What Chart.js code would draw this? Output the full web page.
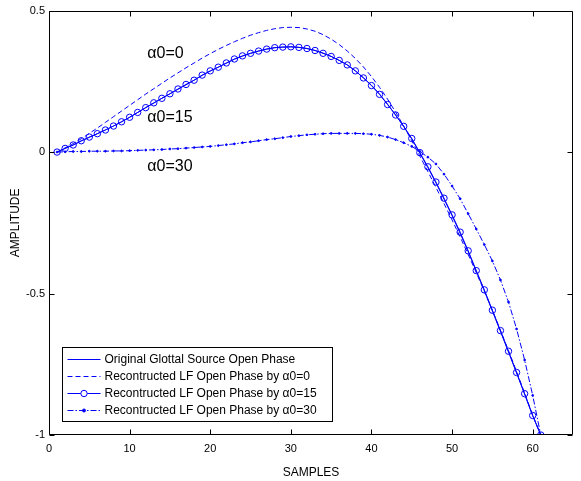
<!DOCTYPE html>
<html><head><meta charset="utf-8">
<script src="https://cdn.jsdelivr.net/npm/chart.js@4/dist/chart.umd.min.js"></script>
<style>html,body{margin:0;padding:0;background:#fff;}#wrap{width:581px;height:481px;}</style>
</head><body><div id="wrap"><canvas id="c" width="581" height="481"></canvas></div>
<script>
const samples = [1,2,3,4,5,6,7,8,9,10,11,12,13,14,15,16,17,18,19,20,21,22,23,24,25,26,27,28,29,30,31,32,33,34,35,36,37,38,39,40,41,42,43,44,45,46,47,48,49,50,51,52,53,54,55,56,57,58,59,60,61];
const original = [0,0.013,0.025,0.039,0.052,0.065,0.078,0.092,0.107,0.123,0.14,0.157,0.173,0.19,0.206,0.222,0.238,0.254,0.271,0.286,0.30,0.314,0.328,0.339,0.349,0.357,0.364,0.369,0.371,0.372,0.37,0.366,0.359,0.35,0.338,0.324,0.308,0.287,0.263,0.236,0.205,0.169,0.131,0.09,0.046,-0.004,-0.055,-0.109,-0.166,-0.225,-0.287,-0.352,-0.421,-0.49,-0.562,-0.634,-0.707,-0.781,-0.856,-0.932,-1.0];
const alphaZero = [0,0.015,0.03,0.047,0.066,0.085,0.105,0.125,0.145,0.165,0.185,0.205,0.224,0.243,0.262,0.28,0.298,0.315,0.332,0.348,0.363,0.377,0.39,0.402,0.413,0.422,0.43,0.436,0.44,0.441,0.44,0.435,0.427,0.415,0.399,0.38,0.357,0.331,0.301,0.267,0.229,0.187,0.141,0.092,0.04,-0.014,-0.069,-0.125,-0.182,-0.24,-0.3,-0.362,-0.426,-0.492,-0.56,-0.63,-0.702,-0.776,-0.852,-0.93,-1.0];
const alphaFifteen = [0,0.013,0.025,0.04,0.053,0.065,0.078,0.092,0.107,0.123,0.14,0.157,0.174,0.19,0.206,0.223,0.239,0.254,0.272,0.287,0.30,0.315,0.329,0.34,0.349,0.357,0.364,0.369,0.371,0.372,0.37,0.366,0.359,0.349,0.338,0.324,0.308,0.287,0.262,0.235,0.204,0.168,0.131,0.091,0.048,-0.002,-0.052,-0.106,-0.163,-0.222,-0.283,-0.349,-0.419,-0.487,-0.559,-0.631,-0.704,-0.779,-0.854,-0.931,-1.0];
const alphaThirty = [0,0.001,0.002,0.002,0.003,0.003,0.003,0.004,0.004,0.005,0.006,0.007,0.008,0.009,0.011,0.012,0.014,0.016,0.018,0.02,0.023,0.026,0.029,0.033,0.036,0.04,0.044,0.047,0.051,0.055,0.058,0.061,0.063,0.065,0.066,0.066,0.066,0.066,0.065,0.063,0.059,0.053,0.044,0.033,0.02,0.002,-0.018,-0.042,-0.078,-0.12,-0.165,-0.218,-0.272,-0.327,-0.385,-0.452,-0.53,-0.625,-0.735,-0.86,-1.0];
const xTicks = [0,10,20,30,40,50,60];
const yTicks = [-1,-0.5,0,0.5];
const yTickLabels = ['-1','-0.5','0','0.5'];
const seriesLabels = ['Original Glottal Source Open Phase','Recontructed LF Open Phase by \u03b10=0','Recontructed LF Open Phase by \u03b10=15','Recontructed LF Open Phase by \u03b10=30'];
const noteTexts = ['\u03b10=0','\u03b10=15','\u03b10=30'];
const noteX = [12.2,12.2,12.2];
const noteY = [0.348,0.122,-0.05];

const BLUE = 'rgb(0,0,255)';
const styles = [
  {dash:[], pr:0, fill:false},
  {dash:[5,3], pr:0, fill:false},
  {dash:[], pr:3.2, fill:false},
  {dash:[6,2,1.5,2], pr:0.9, fill:true}
];
const seriesData = [original, alphaZero, alphaFifteen, alphaThirty];

const datasets = seriesData.map((arr,i)=>({
  label: seriesLabels[i],
  data: samples.map((s,k)=>({x:s,y:arr[k]})),
  borderColor: BLUE,
  backgroundColor: styles[i].fill ? BLUE : 'rgba(0,0,0,0)',
  borderWidth: 1,
  borderDash: styles[i].dash,
  pointRadius: styles[i].pr,
  pointBorderWidth: 1,
  pointBorderColor: BLUE,
  pointBackgroundColor: styles[i].fill ? BLUE : 'rgba(0,0,0,0)',
  pointHoverRadius: styles[i].pr,
  tension: 0,
  fill: false
}));

const framePlugin = {
  id:'frame',
  afterDatasetsDraw(chart){
    const ctx = chart.ctx, a = chart.chartArea;
    const xs = chart.scales.x, ys = chart.scales.y;
    ctx.save();
    ctx.strokeStyle = '#000';
    ctx.lineWidth = 1;
    ctx.setLineDash([]);
    const L = Math.round(a.left)+0.5, R = Math.round(a.right)-0.5, T = Math.round(a.top)+0.5, B = Math.round(a.bottom)-0.5;
    ctx.beginPath();
    ctx.rect(L, T, R-L, B-T);
    ctx.stroke();
    const tl = 5;
    ctx.beginPath();
    xTicks.forEach(v=>{
      const px = Math.round(xs.getPixelForValue(v))+0.5;
      ctx.moveTo(px,B); ctx.lineTo(px,B-tl);
      ctx.moveTo(px,T); ctx.lineTo(px,T+tl);
    });
    yTicks.forEach(v=>{
      const py = Math.round(ys.getPixelForValue(v))+0.5;
      ctx.moveTo(L,py); ctx.lineTo(L+tl,py);
      ctx.moveTo(R,py); ctx.lineTo(R-tl,py);
    });
    ctx.stroke();

    ctx.fillStyle = '#000';
    ctx.font = '16px "Liberation Sans", Arial, sans-serif';
    ctx.textBaseline = 'middle';
    ctx.textAlign = 'left';
    noteTexts.forEach((t,i)=>{
      ctx.fillText(t, xs.getPixelForValue(noteX[i]), ys.getPixelForValue(noteY[i]));
    });

    const bx = Math.round(a.left)+13.5, bw = 270, bh = 74;
    const by = Math.round(a.bottom)-13.5-bh;
    ctx.fillStyle = '#fff';
    ctx.fillRect(bx,by,bw,bh);
    ctx.strokeStyle = '#000';
    ctx.lineWidth = 1;
    ctx.strokeRect(bx,by,bw,bh);
    ctx.font = '12px "Liberation Sans", Arial, sans-serif';
    seriesLabels.forEach((lab,i)=>{
      const y = Math.round(by + 11 + i*17.2)+0.5;
      const x0 = bx+5, x1 = bx+38;
      ctx.strokeStyle = BLUE;
      ctx.lineWidth = 1;
      ctx.setLineDash(styles[i].dash);
      ctx.beginPath(); ctx.moveTo(x0,y); ctx.lineTo(x1,y); ctx.stroke();
      ctx.setLineDash([]);
      if (styles[i].pr > 0) {
        const cx = (x0+x1)/2;
        ctx.beginPath(); ctx.arc(cx,y,styles[i].fill?1.5:styles[i].pr,0,Math.PI*2);
        if (styles[i].fill){ctx.fillStyle=BLUE;ctx.fill();}
        else {ctx.fillStyle='#fff';ctx.fill();}
        ctx.stroke();
      }
      ctx.fillStyle = '#000';
      ctx.fillText(lab, bx+42, y);
    });
    ctx.restore();
  }
};

new Chart(document.getElementById('c'), {
  type:'line',
  data:{datasets},
  options:{
    responsive:false,
    animation:false,
    devicePixelRatio:1,
    layout:{padding:{top:5,right:8,left:0,bottom:0}},
    plugins:{legend:{display:false},tooltip:{enabled:false}},
    scales:{
      x:{
        type:'linear', min:0, max:65,
        afterBuildTicks(s){ s.ticks = xTicks.map(v=>({value:v})); },
        afterFit(s){ s.height = 46; },
        grid:{display:false, drawTicks:false},
        border:{display:false},
        ticks:{padding:7, color:'#000', font:{family:'"Liberation Sans", Arial, sans-serif', size:11}, maxRotation:0, autoSkip:false},
        title:{display:true, text:'SAMPLES', color:'#000', font:{family:'"Liberation Sans", Arial, sans-serif', size:12}, padding:{top:0,bottom:1}}
      },
      y:{
        type:'linear', min:-1, max:0.5,
        afterBuildTicks(s){ s.ticks = yTicks.map(v=>({value:v})); },
        afterFit(s){ s.width = 49; },
        grid:{display:false, drawTicks:false},
        border:{display:false},
        ticks:{padding:4, color:'#000', font:{family:'"Liberation Sans", Arial, sans-serif', size:11}, autoSkip:false,
          callback(v){ const i = yTicks.indexOf(v); return i>=0 ? yTickLabels[i] : ''; }},
        title:{display:true, text:'AMPLITUDE', color:'#000', font:{family:'"Liberation Sans", Arial, sans-serif', size:12}, padding:{top:8,bottom:0}}
      }
    }
  },
  plugins:[framePlugin]
});
</script></body></html>
